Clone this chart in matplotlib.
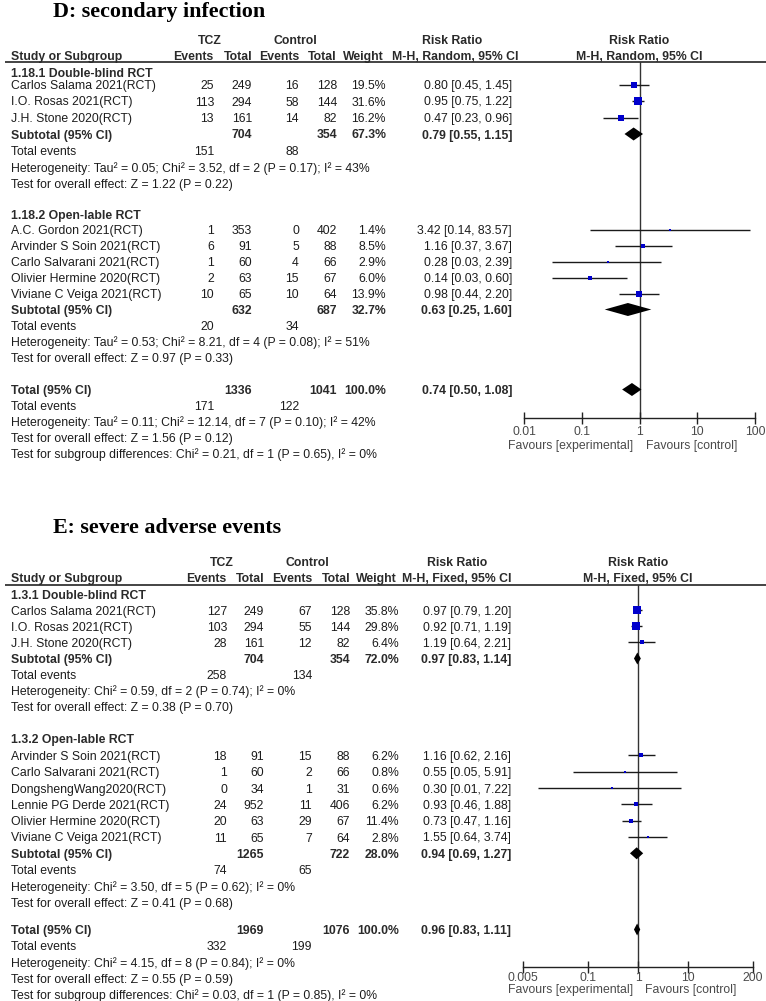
import matplotlib
matplotlib.use('Agg')
import matplotlib.pyplot as plt
from matplotlib.ticker import FixedLocator, FixedFormatter, NullLocator

# ======================= DATA: D secondary infection =======================
D_title = "D: secondary infection"
D_method = "M-H, Random, 95% CI"

D_g1_name = "1.18.1 Double-blind RCT"
D_g1_studies = ["Carlos Salama 2021(RCT)", "I.O. Rosas 2021(RCT)", "J.H. Stone 2020(RCT)"]
D_g1_ev_tcz = [25, 113, 13]
D_g1_n_tcz = [249, 294, 161]
D_g1_ev_ctl = [16, 58, 14]
D_g1_n_ctl = [128, 144, 82]
D_g1_weight = [19.5, 31.6, 16.2]
D_g1_rr = [0.80, 0.95, 0.47]
D_g1_lo = [0.45, 0.75, 0.23]
D_g1_hi = [1.45, 1.22, 0.96]
D_g1_sub_n = [704, 354]
D_g1_sub_weight = 67.3
D_g1_sub_rr = [0.79, 0.55, 1.15]
D_g1_events = [151, 88]
D_g1_het = "Heterogeneity: Tau\u00b2 = 0.05; Chi\u00b2 = 3.52, df = 2 (P = 0.17); I\u00b2 = 43%"
D_g1_test = "Test for overall effect: Z = 1.22 (P = 0.22)"

D_g2_name = "1.18.2 Open-lable RCT"
D_g2_studies = ["A.C. Gordon 2021(RCT)", "Arvinder S Soin 2021(RCT)", "Carlo Salvarani 2021(RCT)",
                "Olivier Hermine 2020(RCT)", "Viviane C Veiga 2021(RCT)"]
D_g2_ev_tcz = [1, 6, 1, 2, 10]
D_g2_n_tcz = [353, 91, 60, 63, 65]
D_g2_ev_ctl = [0, 5, 4, 15, 10]
D_g2_n_ctl = [402, 88, 66, 67, 64]
D_g2_weight = [1.4, 8.5, 2.9, 6.0, 13.9]
D_g2_rr = [3.42, 1.16, 0.28, 0.14, 0.98]
D_g2_lo = [0.14, 0.37, 0.03, 0.03, 0.44]
D_g2_hi = [83.57, 3.67, 2.39, 0.60, 2.20]
D_g2_sub_n = [632, 687]
D_g2_sub_weight = 32.7
D_g2_sub_rr = [0.63, 0.25, 1.60]
D_g2_events = [20, 34]
D_g2_het = "Heterogeneity: Tau\u00b2 = 0.53; Chi\u00b2 = 8.21, df = 4 (P = 0.08); I\u00b2 = 51%"
D_g2_test = "Test for overall effect: Z = 0.97 (P = 0.33)"

D_tot_n = [1336, 1041]
D_tot_weight = 100.0
D_tot_rr = [0.74, 0.50, 1.08]
D_tot_events = [171, 122]
D_tot_het = "Heterogeneity: Tau\u00b2 = 0.11; Chi\u00b2 = 12.14, df = 7 (P = 0.10); I\u00b2 = 42%"
D_tot_test = "Test for overall effect: Z = 1.56 (P = 0.12)"
D_tot_sub = "Test for subgroup differences: Chi\u00b2 = 0.21, df = 1 (P = 0.65), I\u00b2 = 0%"
D_ticks = [0.01, 0.1, 1, 10, 100]
D_tick_labels = ["0.01", "0.1", "1", "10", "100"]

# ======================= DATA: E severe adverse events =======================
E_title = "E: severe adverse events"
E_method = "M-H, Fixed, 95% CI"

E_g1_name = "1.3.1 Double-blind RCT"
E_g1_studies = ["Carlos Salama 2021(RCT)", "I.O. Rosas 2021(RCT)", "J.H. Stone 2020(RCT)"]
E_g1_ev_tcz = [127, 103, 28]
E_g1_n_tcz = [249, 294, 161]
E_g1_ev_ctl = [67, 55, 12]
E_g1_n_ctl = [128, 144, 82]
E_g1_weight = [35.8, 29.8, 6.4]
E_g1_rr = [0.97, 0.92, 1.19]
E_g1_lo = [0.79, 0.71, 0.64]
E_g1_hi = [1.20, 1.19, 2.21]
E_g1_sub_n = [704, 354]
E_g1_sub_weight = 72.0
E_g1_sub_rr = [0.97, 0.83, 1.14]
E_g1_events = [258, 134]
E_g1_het = "Heterogeneity: Chi\u00b2 = 0.59, df = 2 (P = 0.74); I\u00b2 = 0%"
E_g1_test = "Test for overall effect: Z = 0.38 (P = 0.70)"

E_g2_name = "1.3.2 Open-lable RCT"
E_g2_studies = ["Arvinder S Soin 2021(RCT)", "Carlo Salvarani 2021(RCT)", "DongshengWang2020(RCT)",
                "Lennie PG Derde 2021(RCT)", "Olivier Hermine 2020(RCT)", "Viviane C Veiga 2021(RCT)"]
E_g2_ev_tcz = [18, 1, 0, 24, 20, 11]
E_g2_n_tcz = [91, 60, 34, 952, 63, 65]
E_g2_ev_ctl = [15, 2, 1, 11, 29, 7]
E_g2_n_ctl = [88, 66, 31, 406, 67, 64]
E_g2_weight = [6.2, 0.8, 0.6, 6.2, 11.4, 2.8]
E_g2_rr = [1.16, 0.55, 0.30, 0.93, 0.73, 1.55]
E_g2_lo = [0.62, 0.05, 0.01, 0.46, 0.47, 0.64]
E_g2_hi = [2.16, 5.91, 7.22, 1.88, 1.16, 3.74]
E_g2_sub_n = [1265, 722]
E_g2_sub_weight = 28.0
E_g2_sub_rr = [0.94, 0.69, 1.27]
E_g2_events = [74, 65]
E_g2_het = "Heterogeneity: Chi\u00b2 = 3.50, df = 5 (P = 0.62); I\u00b2 = 0%"
E_g2_test = "Test for overall effect: Z = 0.41 (P = 0.68)"

E_tot_n = [1969, 1076]
E_tot_weight = 100.0
E_tot_rr = [0.96, 0.83, 1.11]
E_tot_events = [332, 199]
E_tot_het = "Heterogeneity: Chi\u00b2 = 4.15, df = 8 (P = 0.84); I\u00b2 = 0%"
E_tot_test = "Test for overall effect: Z = 0.55 (P = 0.59)"
E_tot_sub = "Test for subgroup differences: Chi\u00b2 = 0.03, df = 1 (P = 0.85), I\u00b2 = 0%"
E_ticks = [0.005, 0.1, 1, 10, 200]
E_tick_labels = ["0.005", "0.1", "1", "10", "200"]

# ======================= FIGURE =======================
W, H = 766, 1001
fig = plt.figure(figsize=(W / 100, H / 100), dpi=100)
T = fig.add_axes([0, 0, 1, 1])
T.set_xlim(0, W)
T.set_ylim(H, 0)
T.axis('off')

FS = 8.8
BODY = '#1c1c1c'
HEAD = '#2a2a2a'
GREY = '#4a4a4a'
SANS = 'Liberation Sans'


def txt(x, y, s, ha='left', bold=False, color=BODY, size=FS):
    T.text(x, y, s, ha=ha, va='center', fontsize=size,
           fontweight='bold' if bold else 'normal', color=color, family=SANS)


def fmt_rr(v):
    return f"{v[0]:.2f} [{v[1]:.2f}, {v[2]:.2f}]"


def make_group(name, studies, ev1, n1, ev2, n2, wt, rr, lo, hi, sub_n, sub_w, sub_rr, events, het, test):
    return dict(name=name, studies=studies, ev1=ev1, n1=n1, ev2=ev2, n2=n2, wt=wt, rr=rr,
                lo=lo, hi=hi, sub_n=sub_n, sub_w=sub_w, sub_rr=sub_rr, events=events, het=het, test=test)


def draw_panel(title, title_y, method, groups, tot_n, tot_w, tot_rr, tot_events, tot_het, tot_test, tot_sub,
               ticks, tick_labels, L):
    c = L['cols']
    # title
    T.text(53, title_y, title, family='Liberation Serif', fontweight='bold', fontsize=15.8,
           va='baseline', ha='left', color='black')
    # headers
    y1, y2 = L['head_y']
    txt(c['tcz_c'], y1, "TCZ", ha='center', bold=True, color=HEAD)
    txt(c['ctl_c'], y1, "Control", ha='center', bold=True, color=HEAD)
    txt(c['rr_c'], y1, "Risk Ratio", ha='center', bold=True, color=HEAD)
    txt(L['plot_c'], y1, "Risk Ratio", ha='center', bold=True, color=HEAD)
    txt(11, y2, "Study or Subgroup", bold=True, color=HEAD)
    txt(c['ev1'] - 1, y2, "Events", ha='right', bold=True, color=HEAD)
    txt(c['n1'], y2, "Total", ha='right', bold=True, color=HEAD)
    txt(c['ev2'], y2, "Events", ha='right', bold=True, color=HEAD)
    txt(c['n2'], y2, "Total", ha='right', bold=True, color=HEAD)
    txt(c['w'] - 2, y2, "Weight", ha='right', bold=True, color=HEAD)
    txt(c['mh_r'], y2, method, ha='right', bold=True, color=HEAD)
    txt(L['plot_c'], y2, method, ha='center', bold=True, color=HEAD)
    T.plot([5, W], [L['line_y'], L['line_y']], color='#111111', lw=1.1, solid_capstyle='butt')

    # forest axes
    x0, x1 = L['ax_x']
    ya, yb = L['line_y'], L['axis_y']
    F = fig.add_axes([x0 / W, 1 - yb / H, (x1 - x0) / W, (yb - ya) / H])
    F.set_xscale('log')
    F.set_xlim(ticks[0], ticks[-1])
    F.set_ylim(yb, ya)
    F.patch.set_alpha(0)
    for s in ('top', 'left', 'right'):
        F.spines[s].set_visible(False)
    F.spines['bottom'].set_color('#222222')
    F.spines['bottom'].set_linewidth(1.0)
    F.set_yticks([])
    F.xaxis.set_major_locator(FixedLocator(ticks))
    F.xaxis.set_major_formatter(FixedFormatter(tick_labels))
    F.xaxis.set_minor_locator(NullLocator())
    F.tick_params(axis='x', direction='inout', length=8, width=1.0, pad=L['tick_pad'],
                  labelsize=FS, labelcolor=GREY, color='#222222')
    for lab in F.get_xticklabels():
        lab.set_family(SANS)
    F.axvline(1, color='#333333', lw=1.0, zorder=1)

    dy = L['mark_dy']
    hh = L['diam_h']

    def diamond(y, v):
        F.fill([v[1], v[0], v[2], v[0]], [y + dy, y + dy - hh, y + dy, y + dy + hh],
               color='black', lw=0, zorder=4)

    for g, (gt, gf, p) in zip(groups, L['groups']):
        txt(11, gt, g['name'], bold=True, color=HEAD)
        n = len(g['studies'])
        for i in range(n):
            y = gf + i * p
            txt(11, y, g['studies'][i])
            txt(c['ev1'], y, str(g['ev1'][i]), ha='right')
            txt(c['n1'], y, str(g['n1'][i]), ha='right')
            txt(c['ev2'], y, str(g['ev2'][i]), ha='right')
            txt(c['n2'], y, str(g['n2'][i]), ha='right')
            txt(c['w'], y, f"{g['wt'][i]:.1f}%", ha='right')
            txt(c['est'], y, fmt_rr([g['rr'][i], g['lo'][i], g['hi'][i]]), ha='right')
            F.hlines(y + dy, g['lo'][i], g['hi'][i], color='#1a1a1a', lw=1.0, zorder=2)
            side = max(1.35 * g['wt'][i] ** 0.5, 2.0) * 0.72
            F.scatter([g['rr'][i]], [y + dy], marker='s', s=side ** 2, color='#0000cc',
                      linewidths=0, zorder=3)
        ys = gf + n * p
        txt(11, ys, "Subtotal (95% CI)", bold=True, color=HEAD)
        txt(c['n1'], ys, str(g['sub_n'][0]), ha='right', bold=True, color=HEAD)
        txt(c['n2'], ys, str(g['sub_n'][1]), ha='right', bold=True, color=HEAD)
        txt(c['w'], ys, f"{g['sub_w']:.1f}%", ha='right', bold=True, color=HEAD)
        txt(c['est'], ys, fmt_rr(g['sub_rr']), ha='right', bold=True, color=HEAD)
        diamond(ys, g['sub_rr'])
        txt(11, ys + p, "Total events")
        txt(c['ev1'], ys + p, str(g['events'][0]), ha='right')
        txt(c['ev2'], ys + p, str(g['events'][1]), ha='right')
        txt(11, ys + 2 * p, g['het'])
        txt(11, ys + 3 * p, g['test'])

    ty, tp = L['total']
    txt(11, ty, "Total (95% CI)", bold=True, color=HEAD)
    txt(c['n1'], ty, str(tot_n[0]), ha='right', bold=True, color=HEAD)
    txt(c['n2'], ty, str(tot_n[1]), ha='right', bold=True, color=HEAD)
    txt(c['w'], ty, f"{tot_w:.1f}%", ha='right', bold=True, color=HEAD)
    txt(c['est'], ty, fmt_rr(tot_rr), ha='right', bold=True, color=HEAD)
    diamond(ty, tot_rr)
    txt(11, ty + tp, "Total events")
    txt(c['ev1'], ty + tp, str(tot_events[0]), ha='right')
    txt(c['ev2'], ty + tp, str(tot_events[1]), ha='right')
    txt(11, ty + 2 * tp, tot_het)
    txt(11, ty + 3 * tp, tot_test)
    txt(11, ty + 4 * tp, tot_sub)

    fy = L['fav_y']
    txt(L['fav_l'], fy, "Favours [experimental]", ha='right', color=GREY)
    txt(L['fav_r'], fy, "Favours [control]", ha='left', color=GREY)


D_groups = [
    make_group(D_g1_name, D_g1_studies, D_g1_ev_tcz, D_g1_n_tcz, D_g1_ev_ctl, D_g1_n_ctl, D_g1_weight,
               D_g1_rr, D_g1_lo, D_g1_hi, D_g1_sub_n, D_g1_sub_weight, D_g1_sub_rr, D_g1_events,
               D_g1_het, D_g1_test),
    make_group(D_g2_name, D_g2_studies, D_g2_ev_tcz, D_g2_n_tcz, D_g2_ev_ctl, D_g2_n_ctl, D_g2_weight,
               D_g2_rr, D_g2_lo, D_g2_hi, D_g2_sub_n, D_g2_sub_weight, D_g2_sub_rr, D_g2_events,
               D_g2_het, D_g2_test),
]
E_groups = [
    make_group(E_g1_name, E_g1_studies, E_g1_ev_tcz, E_g1_n_tcz, E_g1_ev_ctl, E_g1_n_ctl, E_g1_weight,
               E_g1_rr, E_g1_lo, E_g1_hi, E_g1_sub_n, E_g1_sub_weight, E_g1_sub_rr, E_g1_events,
               E_g1_het, E_g1_test),
    make_group(E_g2_name, E_g2_studies, E_g2_ev_tcz, E_g2_n_tcz, E_g2_ev_ctl, E_g2_n_ctl, E_g2_weight,
               E_g2_rr, E_g2_lo, E_g2_hi, E_g2_sub_n, E_g2_sub_weight, E_g2_sub_rr, E_g2_events,
               E_g2_het, E_g2_test),
]

D_layout = dict(
    cols=dict(ev1=214, n1=252, ev2=299, n2=337, w=386, est=512, mh_r=519, tcz_c=210, ctl_c=295, rr_c=452),
    head_y=(41, 57), line_y=62, axis_y=418, ax_x=(524, 755), plot_c=639,
    groups=[(74, 86, 16.5), (216, 231, 16.0)], total=(391, 16.0),
    mark_dy=-1.5, diam_h=6.5, fav_y=446, fav_l=633, fav_r=646, tick_pad=1.6,
)
E_layout = dict(
    cols=dict(ev1=227, n1=264, ev2=312, n2=350, w=399, est=511, mh_r=512, tcz_c=222, ctl_c=307, rr_c=457),
    head_y=(563, 579), line_y=585, axis_y=967, ax_x=(523, 753), plot_c=638,
    groups=[(596, 612, 16.0), (740, 757, 16.3)], total=(931, 16.2),
    mark_dy=-1.5, diam_h=6.0, fav_y=990, fav_l=633, fav_r=645, tick_pad=-0.5,
)

draw_panel(D_title, 17, D_method, D_groups, D_tot_n, D_tot_weight, D_tot_rr, D_tot_events,
           D_tot_het, D_tot_test, D_tot_sub, D_ticks, D_tick_labels, D_layout)
draw_panel(E_title, 533, E_method, E_groups, E_tot_n, E_tot_weight, E_tot_rr, E_tot_events,
           E_tot_het, E_tot_test, E_tot_sub, E_ticks, E_tick_labels, E_layout)

fig.savefig('out.png', dpi=100, facecolor='white')
